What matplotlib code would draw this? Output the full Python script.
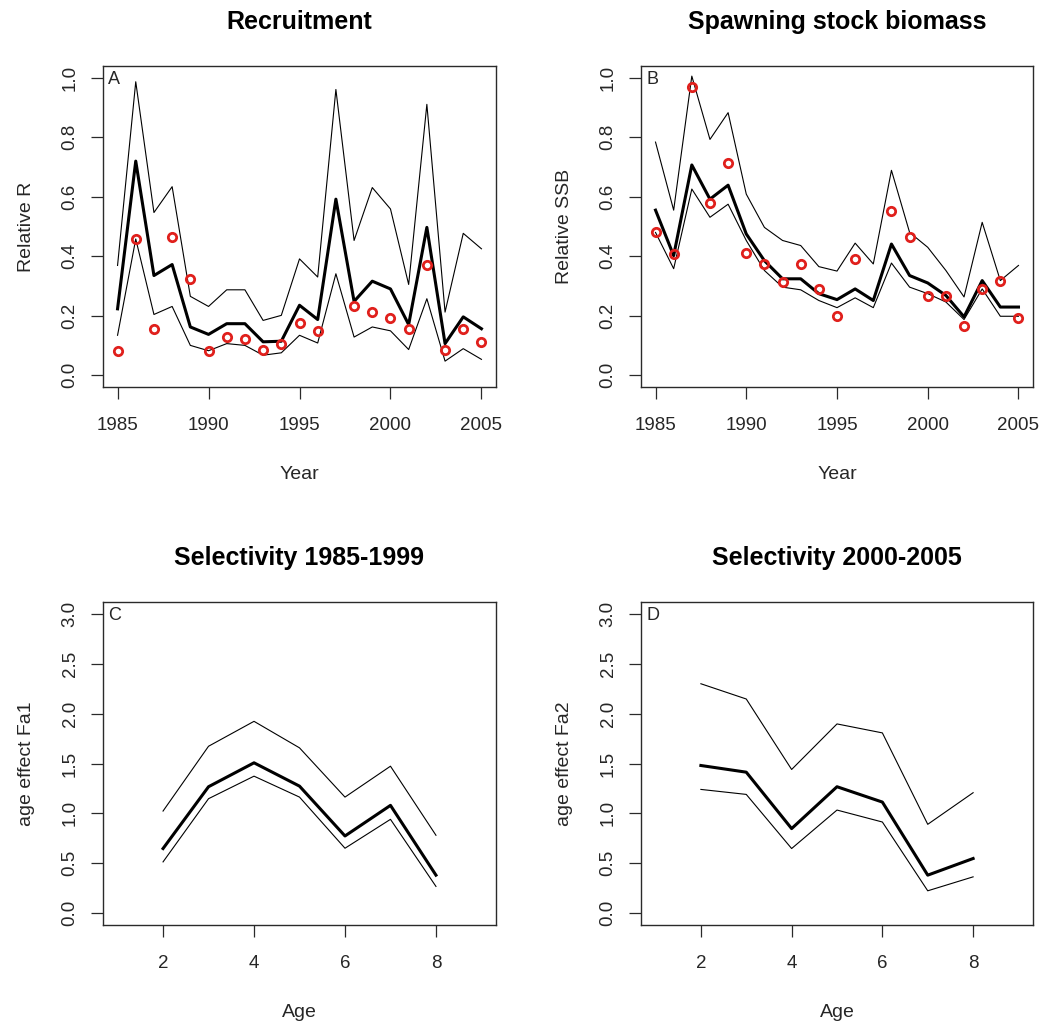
import matplotlib

matplotlib.use("Agg")
import matplotlib.pyplot as plt
import numpy as np

plt.rcParams["font.family"] = ["Liberation Sans", "DejaVu Sans"]

years = np.arange(1985, 2006)
ages = np.arange(2, 9)

# recruitment (relative): estimate, upper/lower bounds, observed
rec_est = [0.223, 0.72, 0.335, 0.372, 0.162, 0.137, 0.173, 0.173, 0.112, 0.114, 0.235,
           0.187, 0.592, 0.248, 0.316, 0.29, 0.17, 0.497, 0.106, 0.196, 0.156]
rec_upper = [0.369, 0.987, 0.547, 0.634, 0.265, 0.231, 0.287, 0.287, 0.184, 0.201, 0.391,
             0.33, 0.961, 0.453, 0.631, 0.559, 0.305, 0.911, 0.212, 0.477, 0.425]
rec_lower = [0.134, 0.458, 0.204, 0.231, 0.1, 0.082, 0.106, 0.1, 0.067, 0.075, 0.134,
             0.108, 0.341, 0.128, 0.162, 0.149, 0.086, 0.257, 0.047, 0.089, 0.053]
rec_obs = [0.08, 0.458, 0.154, 0.464, 0.322, 0.08, 0.128, 0.123, 0.086, 0.103, 0.175,
           0.149, np.nan, 0.232, 0.212, 0.192, 0.156, 0.371, 0.086, 0.155, 0.112]

# spawning stock biomass (relative)
ssb_est = [0.555, 0.402, 0.707, 0.592, 0.639, 0.475, 0.385, 0.324, 0.324, 0.274, 0.254,
           0.29, 0.251, 0.441, 0.335, 0.31, 0.268, 0.196, 0.318, 0.229, 0.229]
ssb_upper = [0.784, 0.555, 1.006, 0.793, 0.883, 0.609, 0.497, 0.453, 0.436, 0.365, 0.35,
             0.444, 0.374, 0.689, 0.48, 0.43, 0.352, 0.263, 0.514, 0.318, 0.369]
ssb_lower = [0.48, 0.358, 0.626, 0.531, 0.575, 0.453, 0.352, 0.296, 0.287, 0.251, 0.227,
             0.26, 0.227, 0.377, 0.296, 0.274, 0.246, 0.187, 0.29, 0.198, 0.198]
ssb_obs = [0.48, 0.406, 0.969, 0.579, 0.715, 0.411, 0.374, 0.313, 0.374, 0.29, 0.198,
           0.389, np.nan, 0.553, 0.464, 0.265, 0.265, 0.165, 0.29, 0.318, 0.192]

# selectivity by age
sel1_est = [0.647, 1.267, 1.507, 1.273, 0.773, 1.08, 0.38]
sel1_upper = [1.023, 1.673, 1.923, 1.657, 1.163, 1.473, 0.78]
sel1_lower = [0.513, 1.147, 1.373, 1.163, 0.65, 0.94, 0.267]
sel2_est = [1.48, 1.413, 0.847, 1.267, 1.113, 0.38, 0.547]
sel2_upper = [2.3, 2.147, 1.44, 1.897, 1.807, 0.89, 1.207]
sel2_lower = [1.24, 1.19, 0.647, 1.033, 0.913, 0.223, 0.363]

W, H = 1048, 1025
fig = plt.figure(figsize=(W / 100, H / 100), dpi=100)

DARK = "#2a2a2a"
TXT = "#262626"


def make_axes(left, top, right, bottom):
    return fig.add_axes([left / W, 1 - bottom / H, (right - left) / W, (bottom - top) / H])


def style(ax, title, xlabel, ylabel, letter, xlim, ylim, xticks, yticks):
    ax.set_xlim(*xlim)
    ax.set_ylim(*ylim)
    ax.set_xticks(xticks)
    ax.set_yticks(yticks)
    ax.set_yticklabels([f"{v:.1f}" for v in yticks], rotation=90, va="center")
    for sp in ax.spines.values():
        sp.set_color(DARK)
        sp.set_linewidth(1.0)
    ax.tick_params(direction="out", length=8.6, width=0.9, color=DARK,
                   labelsize=13.5, labelcolor=TXT)
    ax.tick_params(axis="x", pad=13)
    ax.tick_params(axis="y", pad=9)
    ax.set_title(title, fontsize=18, fontweight="bold", pad=27)
    ax.set_xlabel(xlabel, fontsize=14, labelpad=23, color=TXT)
    ax.set_ylabel(ylabel, fontsize=14, labelpad=19, color=TXT)
    ax.text(0.013, 0.985, letter, transform=ax.transAxes, ha="left", va="top",
            fontsize=13, color=TXT)


def draw(ax, x, est, upper, lower, obs=None):
    ax.plot(x, upper, color="black", lw=0.8)
    ax.plot(x, lower, color="black", lw=0.8)
    ax.plot(x, est, color="black", lw=2.2)
    if obs is not None:
        ax.plot(x, obs, linestyle="none", marker="o", ms=6, mfc="none",
                mec="#e0201c", mew=2.0)


yr_lim = (1984.2, 2005.8)
axA = make_axes(103, 66, 496, 387)
draw(axA, years, rec_est, rec_upper, rec_lower, rec_obs)
style(axA, "Recruitment", "Year", "Relative R", "A", yr_lim, (-0.04, 1.04),
      [1985, 1990, 1995, 2000, 2005], [0.0, 0.2, 0.4, 0.6, 0.8, 1.0])

axB = make_axes(641, 66, 1033, 387)
draw(axB, years, ssb_est, ssb_upper, ssb_lower, ssb_obs)
style(axB, "Spawning stock biomass", "Year", "Relative SSB", "B", yr_lim, (-0.04, 1.04),
      [1985, 1990, 1995, 2000, 2005], [0.0, 0.2, 0.4, 0.6, 0.8, 1.0])

age_lim = (0.68, 9.32)
axC = make_axes(103, 602, 496, 925)
draw(axC, ages, sel1_est, sel1_upper, sel1_lower)
style(axC, "Selectivity 1985-1999", "Age", "age effect Fa1", "C", age_lim, (-0.12, 3.12),
      [2, 4, 6, 8], [0.0, 0.5, 1.0, 1.5, 2.0, 2.5, 3.0])

axD = make_axes(641, 602, 1033, 925)
draw(axD, ages, sel2_est, sel2_upper, sel2_lower)
style(axD, "Selectivity 2000-2005", "Age", "age effect Fa2", "D", age_lim, (-0.12, 3.12),
      [2, 4, 6, 8], [0.0, 0.5, 1.0, 1.5, 2.0, 2.5, 3.0])

fig.savefig("out.png", dpi=100)
